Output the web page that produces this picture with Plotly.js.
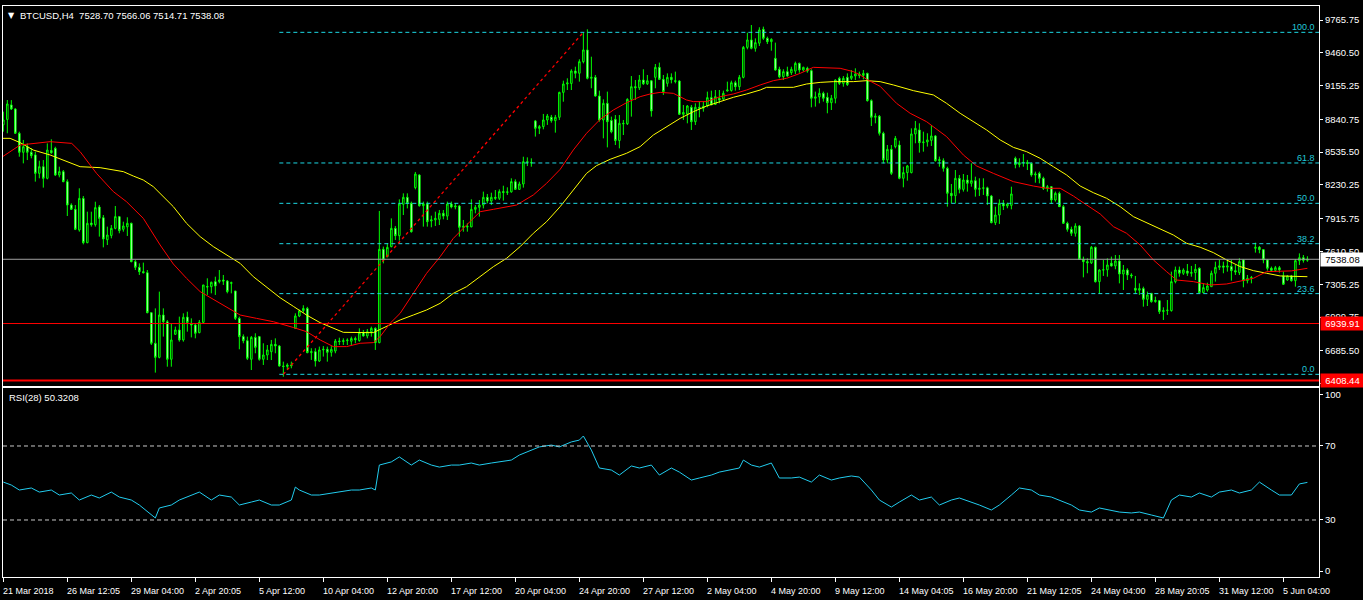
<!DOCTYPE html>
<html><head><meta charset="utf-8">
<script src="https://cdn.plot.ly/plotly-3.0.1.min.js"></script>
<style>html,body{margin:0;padding:0;background:#000;}#chart{width:1363px;height:600px;}</style>
</head><body><div id="chart"></div>
<script>
// ---------- DATA ----------
const titleText = 'BTCUSD,H4\u00a0\u00a07528.70 7566.06 7514.71 7538.08';
const rsiTitle = 'RSI(28) 50.3208';
const opens = [
8790,8840,8975,8937,8711,8534,8586,8534,8510,8338,
8400,8292,8550,8571,8323,8354,8261,8043,8003,7811,
8105,7693,7875,7860,8025,7925,7720,7760,7826,7935,
7817,7840,7873,7516,7463,7423,7413,7041,6756,6625,
7019,6957,6607,6840,6880,6787,7000,6942,6926,6855,
6951,7285,7283,7330,7330,7345,7336,7314,7243,6988,
6818,6780,6607,6811,6818,6607,6647,6678,6746,6731,
6545,6540,6554,6895,7010,7060,7080,6669,6678,6591,
6694,6700,6672,6684,6777,6772,6780,6775,6800,6781,
6855,6824,6864,6895,6762,7631,7562,7656,7826,7758,
8050,8115,8059,8205,8323,8037,8053,7895,7905,7910,
7966,7940,8053,8025,8034,7836,7845,7840,8003,8022,
8043,8115,8080,8115,8106,8168,8160,8166,8261,8189,
8239,8447,8440,8826,8757,8773,8835,8860,8829,8860,
9092,9170,9175,9291,9270,9378,9487,9223,9232,9058,
8835,8990,8830,8841,8643,8804,8800,9027,9145,9135,
9207,9172,9200,9232,9325,9213,9176,9232,9200,9198,
8888,8890,8953,8819,8953,8945,8965,9043,8980,9037,
9030,9105,9110,9182,9145,9232,9511,9580,9502,9550,
9679,9595,9564,9409,9307,9238,9285,9275,9290,9362,
9300,9316,9294,9037,9050,9083,9046,8996,9037,9223,
9176,9232,9223,9244,9263,9250,9269,9015,8860,8870,
8711,8463,8562,8587,8602,8292,8345,8345,8705,8742,
8624,8630,8645,8686,8456,8456,8385,8152,8130,8292,
8189,8276,8245,8270,8189,8199,8203,8127,7879,7950,
8059,8034,8040,8478,8420,8438,8440,8430,8323,8338,
8292,8199,8214,8090,8152,8028,7873,7817,7780,7848,
7538,7516,7505,7650,7330,7438,7440,7501,7476,7522,
7401,7438,7392,7268,7250,7265,7165,7221,7144,7153,
7051,7060,7060,7330,7438,7408,7429,7408,7414,7454,
7228,7252,7283,7408,7463,7476,7465,7470,7432,7414,
7532,7339,7361,7640,7650,7628,7532,7454,7435,7460,
7383,7345,7383,7339,7525,7553,7528.70];
const highs = [
8912,9021,9020,8945,8726,8649,8617,8571,8540,8456,
8462,8617,8655,8586,8400,8369,8282,8059,8043,8199,
8127,7981,7981,8074,8043,7950,7842,7857,8034,7941,
7888,7929,7879,7531,7500,7507,7438,7041,7081,7237,
7081,6973,6942,6911,7004,7035,7050,6988,6942,6973,
7299,7361,7330,7376,7438,7392,7345,7330,7243,7004,
6839,6818,6824,6849,6824,6756,6740,6787,6802,6740,
6585,6570,6585,7035,7070,7110,7095,6710,6710,6725,
6730,6725,6730,6796,6808,6802,6802,6818,6818,6895,
6880,6889,6911,6905,7988,7656,7687,7919,7848,8096,
8152,8152,8075,8351,8330,8075,8075,7944,7981,7997,
7997,8075,8075,8059,8043,7904,7873,8096,8043,8090,
8168,8146,8158,8183,8189,8223,8208,8292,8282,8261,
8493,8487,8478,8835,8788,8891,8891,8882,8882,9098,
9201,9223,9307,9331,9400,9648,9679,9424,9254,9108,
9027,9099,8866,8881,8881,8835,9037,9244,9207,9254,
9307,9254,9207,9356,9369,9254,9269,9269,9285,9207,
8974,8974,8974,8990,9006,9006,9099,9108,9114,9114,
9108,9192,9201,9201,9254,9524,9648,9719,9595,9698,
9704,9611,9595,9555,9331,9307,9331,9331,9378,9369,
9331,9331,9307,9099,9130,9099,9089,9068,9213,9238,
9244,9269,9300,9316,9285,9300,9275,9027,8897,8881,
8726,8602,8602,8686,8642,8400,8416,8757,8826,8804,
8726,8711,8788,8695,8494,8478,8400,8239,8369,8323,
8332,8323,8431,8307,8292,8292,8214,8137,8028,8096,
8090,8065,8214,8494,8478,8518,8463,8438,8354,8354,
8307,8230,8220,8168,8168,8044,7888,7842,7873,7857,
7563,7547,7662,7656,7445,7532,7547,7563,7578,7578,
7485,7454,7408,7383,7314,7283,7237,7221,7190,7159,
7091,7159,7423,7470,7470,7454,7494,7476,7494,7463,
7314,7320,7432,7516,7532,7516,7538,7532,7485,7547,
7538,7392,7383,7693,7662,7631,7538,7470,7476,7476,
7423,7392,7392,7538,7593,7578,7566.06];
const lows = [
8726,8711,8928,8705,8493,8431,8462,8478,8261,8292,
8205,8282,8520,8313,8301,8255,7941,7997,7810,7795,
7677,7687,7842,7842,7749,7649,7671,7733,7817,7780,
7795,7755,7510,7438,7392,7407,7035,6740,6483,6616,
6818,6538,6538,6833,6771,6771,6864,6811,6802,6849,
6942,7206,7221,7206,7314,7299,7221,7221,6973,6700,
6756,6600,6507,6663,6594,6554,6600,6600,6663,6538,
6445,6507,6523,6890,7000,7040,6663,6601,6539,6582,
6632,6585,6632,6663,6740,6740,6740,6740,6756,6771,
6818,6802,6818,6694,6756,7500,7556,7649,7718,7712,
7950,8012,7786,8189,8028,7842,7842,7836,7848,7857,
7910,7904,8012,8003,7749,7795,7795,7836,7966,7935,
8012,8059,8043,8090,8090,8084,8137,8158,8183,8183,
8205,8406,8400,8680,8704,8748,8789,8810,8717,8835,
9005,9114,9114,9223,9192,9362,9213,9130,9052,8819,
8664,8580,8711,8602,8571,8695,8788,8866,9021,9114,
9161,9161,8866,9130,9207,9068,9145,9176,9176,8881,
8835,8804,8742,8788,8860,8912,8953,8974,8974,8990,
9021,9099,9099,9108,9114,9223,9493,9493,9471,9524,
9580,9542,9480,9295,9223,9207,9238,9254,9263,9275,
9285,9275,8953,8959,8990,9006,8897,8928,8990,9161,
9145,9151,9207,9207,9223,9213,9006,8779,8804,8690,
8431,8431,8323,8571,8283,8208,8270,8338,8618,8531,
8540,8587,8593,8447,8400,8354,8028,8059,8059,8152,
8168,8168,8214,8121,8127,8137,8044,7873,7857,7867,
7997,8013,8003,8385,8394,8400,8369,8307,8251,8245,
8183,8168,8053,8075,8028,7867,7795,7755,7749,7532,
7370,7408,7494,7321,7215,7383,7376,7470,7445,7314,
7252,7345,7361,7221,7206,7097,7103,7134,7134,7029,
6973,7020,7051,7314,7376,7392,7383,7376,7345,7221,
7221,7237,7283,7330,7438,7408,7423,7339,7392,7392,
7277,7314,7314,7600,7594,7501,7432,7423,7423,7414,
7299,7339,7330,7283,7485,7507,7514.71];
const closes = [
8835,8984,8937,8711,8534,8586,8534,8503,8338,8400,
8292,8555,8530,8323,8354,8261,8043,8003,7817,8105,
7693,7873,7860,8019,7919,7727,7764,7826,7935,7805,
7848,7873,7516,7463,7423,7413,7041,6756,6625,7019,
6957,6607,6787,6880,6787,6998,6950,6926,6849,6951,
7299,7280,7324,7290,7345,7335,7237,7320,6988,6818,
6780,6616,6811,6718,6607,6647,6694,6746,6731,6545,
6540,6554,6548,7010,7057,7080,6669,6678,6591,6694,
6700,6672,6700,6777,6772,6780,6785,6800,6790,6855,
6824,6864,6895,6762,7631,7531,7649,7826,7758,8053,
8115,8059,7795,8332,8037,8055,7888,7905,7919,7966,
7940,8053,8025,8034,7836,7845,7840,8003,8022,8043,
8115,8080,8115,8106,8168,8160,8166,8261,8189,8239,
8447,8440,8436,8757,8773,8835,8872,8829,8860,9092,
9170,9180,9291,9270,9378,9487,9223,9232,9058,8835,
8990,8819,8726,8643,8804,8800,9027,9145,9135,9207,
9172,9200,8919,9325,9213,9099,9232,9210,9195,8888,
8905,8965,8819,8953,8945,8962,9043,8975,9052,9020,
9083,9114,9182,9145,9232,9511,9580,9502,9555,9673,
9595,9564,9586,9300,9238,9285,9244,9307,9362,9300,
9325,9290,9037,9050,9083,9037,8996,9037,9207,9176,
9223,9165,9244,9263,9250,9269,9015,8860,8870,8711,
8463,8562,8338,8664,8292,8345,8407,8705,8757,8624,
8630,8649,8686,8456,8465,8385,8152,8130,8292,8189,
8276,8245,8270,8189,8199,8203,8127,7879,7950,8059,
8034,8053,8146,8420,8438,8440,8430,8323,8332,8292,
8199,8214,8090,8152,8028,7873,7817,7780,7848,7538,
7516,7505,7650,7330,7438,7440,7485,7476,7522,7401,
7438,7392,7385,7250,7265,7165,7206,7144,7155,7051,
7060,7064,7330,7438,7408,7438,7408,7414,7445,7228,
7274,7289,7408,7463,7476,7465,7476,7432,7420,7516,
7339,7361,7368,7650,7628,7532,7454,7435,7460,7440,
7305,7383,7339,7525,7553,7528,7538.08];

// moving averages (bar position, value)
const maRedBar = [-0.8,4.2,11.7,17.1,19.2,23.3,27.5,30.8,35,39.2,42.5,45.8,49.2,54.2,59.2,63.3,67.5,72.5,75.8,79.2,82.5,85.8,89.2,92.5,94.2,96.7,99.2,102.5,105.8,109.2,112.5,115.8,119.2,122.5,125.8,128.3,132.5,135.8,139.2,142.5,145.8,149.2,152.5,155.8,159.2,161.7,164.2,167.5,170.8,172.5,175.8,179.2,182.5,185.8,189.2,192.5,195.8,199.2,202.5,205.8,209.2,212.5,214.2,216,219.2,223.3,226.7,230.8,235.8,240,243.3,247.5,252.5,257.5,260.8,264.2,267.5,270.8,274.2,277.5,280.8,284.2,287.5,290.8,293.3,297.5,301.7,305.8,310,312.5,315.8,319.2,322,326];
const maRed = [8478,8602,8633,8617,8540,8338,8168,8074,7919,7671,7494,7361,7237,7128,7019,6988,6957,6903,6864,6787,6725,6725,6756,6762,6818,6942,7035,7221,7407,7562,7733,7857,7981,8003,8022,8043,8137,8245,8375,8556,8711,8841,8928,8996,9052,9077,9092,9083,9021,9006,9006,9052,9077,9114,9161,9201,9223,9269,9325,9322,9316,9285,9254,9210,9148,8990,8897,8819,8680,8509,8407,8338,8261,8220,8199,8199,8127,8044,7960,7842,7780,7671,7532,7423,7345,7330,7299,7308,7345,7361,7423,7425,7430,7454];
const maYelBar = [-0.8,1.7,4.2,7.5,11.7,15.8,19.2,24.2,27.5,30,32.5,35,37.5,40.8,42.5,45.8,49.2,52.5,55.8,59.2,62.5,65.8,69.2,72.5,75.8,79.2,82.5,85,92.5,95.8,99.2,102.5,105.8,109.2,112.5,115.8,119.2,122.5,125.8,129.2,132.5,135.8,139.2,142.5,145.8,148.3,151.7,155.8,159.2,162.5,165.8,169.2,172.5,175.8,179.2,182.5,185.8,189.2,190.8,197.5,200.8,204.2,207.5,212.5,215.8,219.2,222.5,227.5,232.5,235.8,239.2,242.5,245.8,249.2,252.5,255.8,259.2,262.5,265.8,269.2,272.5,275.8,279.2,282.5,285.8,289.2,292.5,295.8,299.2,302.5,305.8,309.2,312.5,315.8,319.2,326];
const maYel = [8664,8664,8624,8555,8509,8447,8400,8391,8369,8354,8313,8276,8214,8090,8028,7873,7749,7656,7578,7500,7376,7283,7180,7100,7019,6948,6895,6858,6855,6911,6973,7019,7066,7128,7221,7283,7376,7469,7547,7656,7780,7888,8028,8183,8338,8410,8469,8525,8587,8695,8773,8850,8912,8965,9006,9046,9077,9114,9139,9139,9170,9185,9192,9192,9201,9192,9161,9108,9068,8990,8897,8819,8742,8649,8580,8540,8478,8400,8323,8220,8158,8106,8028,7935,7879,7826,7764,7687,7650,7600,7532,7470,7432,7408,7383,7376];

// RSI(28)
const rsiBar = [0,2,4,7,9,12,14,17,19,22,24,27,29,32,34,37,38,39,42,44,47,49,52,54,57,59,62,64,67,69,72,73,74,77,79,82,84,87,89,92,93,94,97,99,102,104,107,109,112,114,117,119,122,124,127,129,132,134,137,139,142,144,145,147,149,152,154,157,159,162,164,167,169,172,174,177,179,182,184,185,187,189,192,194,197,199,202,204,207,209,212,214,217,219,222,224,227,229,232,234,237,239,242,244,247,249,252,254,257,259,262,264,267,269,272,274,277,279,282,284,287,289,290,292,294,297,299,302,304,307,309,312,314,317,319,322,324,326];
const rsiVal = [50.5,48.9,46.2,47.3,45.1,46.2,43.5,44.6,40.8,43.5,41.9,45.1,42.4,40.8,38.1,32.7,31.1,36.5,38.1,40.8,43.5,45.1,40.8,43.5,42.4,38.1,39.7,40.8,38.1,38.1,40.8,47.8,46.2,43.5,43.5,44.6,45.1,46.2,46.2,47.3,46.2,59.7,61.4,64.1,59.7,62.4,59.7,58.6,59.7,59.7,60.8,59.7,60.8,61.4,62.4,65.1,67.8,69.5,70.5,69.5,72.2,73.2,75.4,67.8,58.1,57.0,54.3,59.2,58.1,59.7,54.3,58.1,55.9,51.6,52.7,54.3,55.9,57.0,58.1,62.4,59.7,58.6,60.8,52.7,52.7,53.2,50.5,54.3,51.6,52.7,53.8,53.2,46.2,40.8,37.0,39.7,43.5,40.8,42.4,38.1,40.8,41.9,39.7,38.1,35.4,38.1,43.5,47.3,46.2,43.5,42.4,40.8,38.1,35.4,34.3,36.5,35.4,34.3,33.8,34.3,32.7,31.6,31.1,40.8,43.5,42.4,44.6,42.4,45.1,46.2,44.6,46.2,50.5,46.2,43.5,43.5,49.5,50.32];

// axis labels
const priceTicks = [9765.75,9460.50,9155.25,8840.75,8535.50,8230.25,7915.75,7610.50,7305.25,6999.75,6685.50,6380.25];
const timeLabels = ['21 Mar 2018','26 Mar 12:05','29 Mar 04:00','2 Apr 20:05','5 Apr 12:00','10 Apr 04:00','12 Apr 20:00','17 Apr 12:00','20 Apr 04:00','24 Apr 20:00','27 Apr 12:00','2 May 04:00','4 May 20:00','9 May 12:00','14 May 04:05','16 May 20:00','21 May 12:05','24 May 04:00','28 May 20:05','31 May 12:00','5 Jun 04:00'];
const barsPerLabel = 16;

// horizontal levels
const bidPrice = 7538.08;
const redLevels = [6939.91, 6408.44];
const fibLow = 6467, fibHigh = 9651;
const fibLowBar = 70, fibHighBar = 145;
const fibLevels = [0, 23.6, 38.2, 50, 61.8, 100];
const fibLabels = ['0.0','23.6','38.2','50.0','61.8','100.0'];
const rsiLevels = [70, 30];

// ---------- CHART ----------
const idx = closes.map((_, i) => i);
const FONT = 'Liberation Sans, Arial, sans-serif';
const LIME = '#00ff00';
const FIB = '#1cd8e4';

const traces = [
  {type:'candlestick', x: idx, open: opens, high: highs, low: lows, close: closes,
   xaxis:'x', yaxis:'y', whiskerwidth:0, hoverinfo:'skip',
   increasing:{line:{color:LIME, width:1}, fillcolor:'#000000'},
   decreasing:{line:{color:LIME, width:1}, fillcolor:'#ffffff'}},
  {type:'scatter', mode:'lines', x: maYelBar, y: maYel, xaxis:'x', yaxis:'y',
   line:{color:'#ffff00', width:1}, hoverinfo:'skip'},
  {type:'scatter', mode:'lines', x: maRedBar, y: maRed, xaxis:'x', yaxis:'y',
   line:{color:'#ff0000', width:1}, hoverinfo:'skip'},
  {type:'scatter', mode:'lines', x: rsiBar, y: rsiVal, xaxis:'x2', yaxis:'y2',
   line:{color:'#22ccee', width:1}, hoverinfo:'skip'}
];

const shapes = [];
fibLevels.forEach(lv => {
  const p = fibLow + (fibHigh - fibLow) * lv / 100;
  shapes.push({type:'line', xref:'x', yref:'y', x0: fibLowBar - 1, x1: 330, y0: p, y1: p,
    line:{color:FIB, width:1, dash:'4px,3px'}});
});
shapes.push({type:'line', xref:'x', yref:'y', x0: fibLowBar, y0: fibLow, x1: fibHighBar, y1: fibHigh,
  line:{color:'#ff0000', width:1.3, dash:'3px,3px'}});
shapes.push({type:'line', xref:'paper', yref:'y', x0:0, x1:1, y0: bidPrice, y1: bidPrice,
  line:{color:'#a0a0a0', width:1}});
redLevels.forEach((p, k) => shapes.push({type:'line', xref:'paper', yref:'y', x0:0, x1:1, y0:p, y1:p,
  line:{color:'#ff0000', width: k === 1 ? 2 : 1}}));
rsiLevels.forEach(v => shapes.push({type:'line', xref:'paper', yref:'y2', x0:0, x1:1, y0:v, y1:v,
  line:{color:'#c8c8c8', width:1, dash:'4px,3px'}}));

const annotations = [];
annotations.push({xref:'paper', yref:'paper', x: 3/1316, y: (577-15)/571, xanchor:'left', yanchor:'middle',
  text:'\u25BC', showarrow:false, font:{family:'DejaVu Sans', size:8, color:'#ffffff'}});
annotations.push({xref:'paper', yref:'paper', x: 15/1316, y: (577-15)/571, xanchor:'left', yanchor:'middle',
  text: titleText, showarrow:false, font:{family:FONT, size:9.5, color:'#ffffff'}});
annotations.push({xref:'paper', yref:'paper', x: 4/1316, y: (577-397.5)/571, xanchor:'left', yanchor:'middle',
  text: rsiTitle, showarrow:false, font:{family:FONT, size:9.5, color:'#ffffff'}});
fibLevels.forEach((lv, k) => {
  const p = fibLow + (fibHigh - fibLow) * lv / 100;
  annotations.push({xref:'paper', yref:'y', x: 1313/1316, y: p, xanchor:'right', yanchor:'bottom',
    text: fibLabels[k], showarrow:false, font:{family:FONT, size:9, color:'#20c8d8'}, borderpad:0, yshift:-1});
});
function priceBox(p, bg, fg) {
  annotations.push({xref:'paper', yref:'y', x:1, y:p, xanchor:'left', yanchor:'middle', xshift:1,
    text: p.toFixed(2), showarrow:false, bgcolor:bg, width:41, height:11, borderpad:1,
    font:{family:FONT, size:9.5, color:fg}});
}
priceBox(bidPrice, '#ffffff', '#000000');
redLevels.forEach(p => priceBox(p, '#ff0000', '#ffffff'));
const timeTicks = timeLabels.map((_, k) => k * barsPerLabel);
timeLabels.forEach((t, k) => {
  annotations.push({xref:'x2', yref:'paper', x: timeTicks[k], y: (577-591)/571, xanchor:'left', yanchor:'middle',
    xshift:-2, text: t, showarrow:false, font:{family:FONT, size:9, color:'#ffffff'}});
});

const axCommon = {showgrid:false, zeroline:false, showline:true, mirror:true, linecolor:'#ffffff', linewidth:1, fixedrange:true};
const xRange = [-0.08, 328.9];
const layout = {
  width:1363, height:600, paper_bgcolor:'#000000', plot_bgcolor:'#000000',
  margin:{l:3, r:44, t:6, b:23}, showlegend:false, boxgap:0.45, hovermode:false,
  font:{family:FONT, size:9.5, color:'#ffffff'},
  xaxis: Object.assign({}, axCommon, {domain:[0,1], anchor:'y', range:xRange, showticklabels:false, ticks:'', rangeslider:{visible:false}}),
  yaxis: Object.assign({}, axCommon, {domain:[0.3345,1], anchor:'x', side:'right', range:[6358.3, 9896.1],
    tickvals: priceTicks, ticktext: priceTicks.map(v => v.toFixed(2)), ticks:'outside', ticklen:3, tickcolor:'#ffffff',
    tickfont:{family:FONT, size:9.5, color:'#ffffff'}}),
  xaxis2: Object.assign({}, axCommon, {domain:[0,1], anchor:'y2', range:xRange, matches:'x', showticklabels:false,
    tickvals: timeTicks, ticks:'outside', ticklen:4, tickcolor:'#ffffff'}),
  yaxis2: Object.assign({}, axCommon, {domain:[0,0.331], anchor:'x2', side:'right', range:[-0.81, 101.35],
    tickvals:[97.6,70,30,2.4], ticktext:['100','70','30','0'], ticks:'outside', ticklen:3, tickcolor:'#ffffff',
    tickfont:{family:FONT, size:9.5, color:'#ffffff'}}),
  shapes: shapes, annotations: annotations
};
Plotly.newPlot('chart', traces, layout, {staticPlot:true, displayModeBar:false});
</script></body></html>
